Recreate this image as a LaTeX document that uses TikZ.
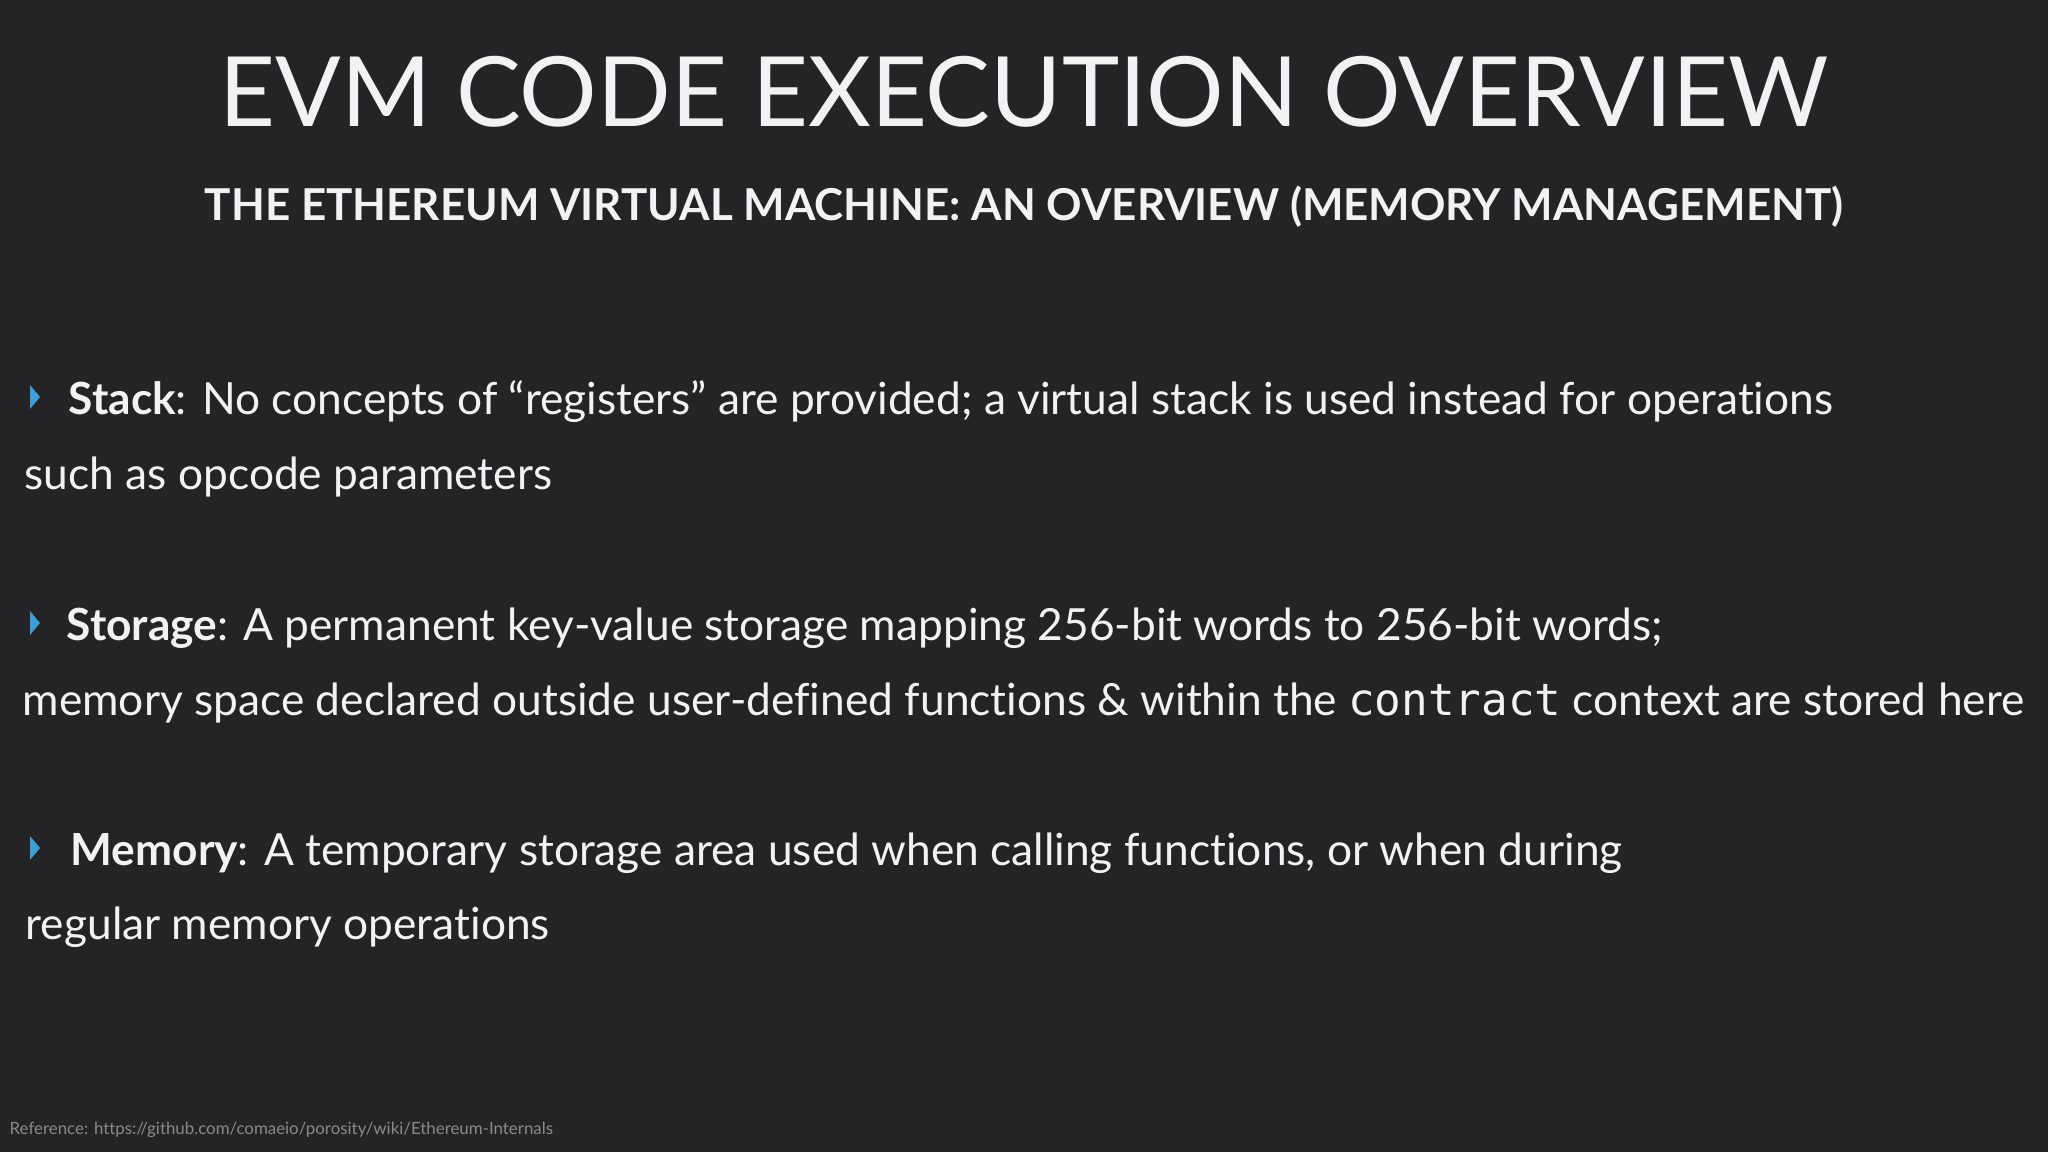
\documentclass[tikz,border=0pt]{standalone}
\usepackage{fontspec}
\setmainfont{Lato}[Ligatures={NoCommon,TeX}]
\newfontfamily\monof{DejaVu Sans Mono}
\definecolor{bg}{HTML}{242426}
\definecolor{fg}{HTML}{F2F2F2}
\definecolor{bul}{HTML}{3C9FD6}
\definecolor{refc}{HTML}{8A8A8A}
\tikzset{
  body/.style={anchor=base west,inner sep=0pt,text=fg,font=\fontsize{12.6}{15}\selectfont},
  bull/.style={fill=bul,draw=none}
}
\begin{document}
\begin{tikzpicture}
\fill[bg] (0,0) rectangle (20.48,11.52);
\useasboundingbox (0,0) rectangle (20.48,11.52);
\node[text=fg,font=\fontsize{27.6}{32}\selectfont,inner sep=0pt] (title) at (10.24,10.60) {EVM CODE EXECUTION OVERVIEW};
\node[text=fg,font=\fontsize{12.5}{15}\selectfont\bfseries,inner sep=0pt] (sub) at (10.24,9.45) {THE ETHEREUM VIRTUAL MACHINE: AN OVERVIEW (MEMORY MANAGEMENT)};
\foreach \n/\y in {b1/7.37,b2/5.11,b3/2.86}{
  \fill[bull] (0.30,\y+0.06) -- (0.30,\y+0.30) -- (0.40,\y+0.18) -- cycle;
}
\node[body] (l1) at (0.68,7.37) {\textbf{Stack}: No concepts of “registers” are provided; a virtual stack is used instead for operations};
\node[body] (l2) at (0.24,6.62) {such as opcode parameters};
\node[body] (l3) at (0.66,5.11) {\textbf{Storage}: A permanent key-value storage mapping 256-bit words to 256-bit words;};
\node[body] (l4) at (0.22,4.36) {memory space declared outside user-defined functions \& within the {\monof contract} context are stored here};
\node[body] (l5) at (0.70,2.86) {\textbf{Memory}: A temporary storage area used when calling functions, or when during};
\node[body] (l6) at (0.25,2.12) {regular memory operations};
\node[anchor=base west,inner sep=0pt,text=refc,font=\fontsize{4.8}{6}\selectfont] (ref) at (0.09,0.17) {Reference: https://github.com/comaeio/porosity/wiki/Ethereum-Internals};
\end{tikzpicture}
\end{document}
